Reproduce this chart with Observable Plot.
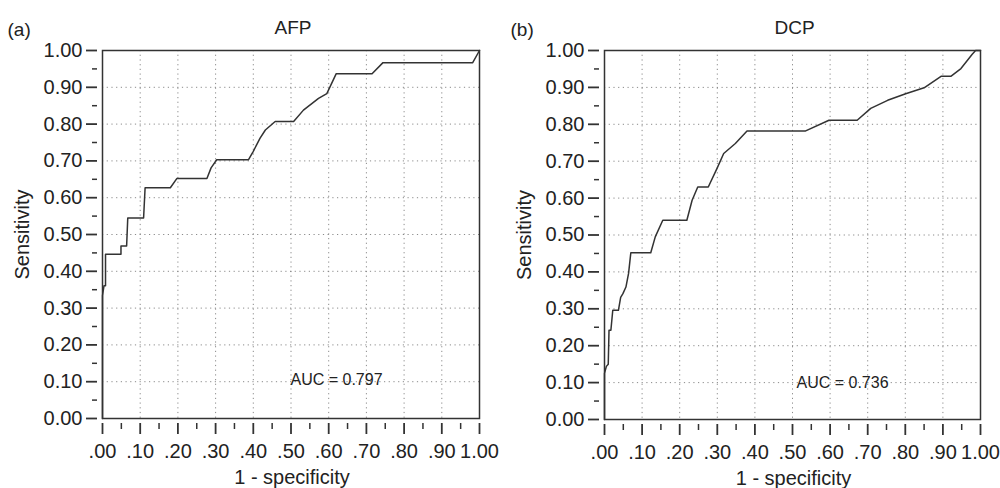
<!DOCTYPE html>
<html><head><meta charset="utf-8">
<script src="https://cdn.jsdelivr.net/npm/d3@7"></script>
<script src="https://cdn.jsdelivr.net/npm/@observablehq/plot@0.6"></script>
<style>
html,body{margin:0;padding:0;background:#fff;}
#charts{display:flex;width:1000px;height:488px;overflow:hidden;}
</style></head><body><div id="charts"></div>
<script>
// ROC curve for AFP (1 - specificity, sensitivity)
const afpX = [0, 0, 0.004, 0.008, 0.008, 0.049, 0.049, 0.064, 0.067, 0.109, 0.113, 0.18, 0.197, 0.277, 0.288, 0.303, 0.387, 0.40, 0.418, 0.432, 0.458, 0.507, 0.533, 0.573, 0.595, 0.62, 0.715, 0.744, 0.982, 1.0];
const afpY = [0, 0.334, 0.361, 0.361, 0.446, 0.446, 0.469, 0.469, 0.545, 0.545, 0.627, 0.627, 0.652, 0.652, 0.681, 0.703, 0.703, 0.726, 0.762, 0.784, 0.807, 0.807, 0.838, 0.87, 0.883, 0.937, 0.937, 0.967, 0.967, 1.0];
// ROC curve for DCP
const dcpX = [0, 0, 0.005, 0.01, 0.012, 0.017, 0.022, 0.037, 0.043, 0.049, 0.057, 0.064, 0.07, 0.123, 0.135, 0.155, 0.219, 0.233, 0.248, 0.276, 0.299, 0.317, 0.348, 0.379, 0.535, 0.597, 0.672, 0.708, 0.753, 0.801, 0.85, 0.895, 0.921, 0.948, 0.978, 0.987, 1.0];
const dcpY = [0, 0.125, 0.144, 0.15, 0.242, 0.242, 0.296, 0.296, 0.331, 0.341, 0.359, 0.396, 0.452, 0.452, 0.495, 0.54, 0.54, 0.594, 0.63, 0.63, 0.68, 0.721, 0.748, 0.782, 0.782, 0.811, 0.811, 0.843, 0.865, 0.883, 0.899, 0.93, 0.93, 0.951, 0.99, 1.0, 1.0];

const panelLetters = ["(a)", "(b)"];
const panelTitles = ["AFP", "DCP"];
const aucLabels = ["AUC = 0.797", "AUC = 0.736"];
const xLabel = "1 - specificity";
const yLabel = "Sensitivity";

const majorTicks = [0, 0.1, 0.2, 0.3, 0.4, 0.5, 0.6, 0.7, 0.8, 0.9, 1.0];
const minorTicks = [0.05, 0.15, 0.25, 0.35, 0.45, 0.55, 0.65, 0.75, 0.85, 0.95];
const gridTicks = [0.1, 0.2, 0.3, 0.4, 0.5, 0.6, 0.7, 0.8, 0.9];
const xTickLabels = [".00", ".10", ".20", ".30", ".40", ".50", ".60", ".70", ".80", ".90", "1.00"];
const yTickLabels = ["0.00", "0.10", "0.20", "0.30", "0.40", "0.50", "0.60", "0.70", "0.80", "0.90", "1.00"];

const ink = "#222";
const font = "'Liberation Sans', Arial, Helvetica, sans-serif";
const labelAt = (labels) => (d) => labels[majorTicks.findIndex(t => Math.abs(t - d) < 1e-9)];

function panel(xs, ys, k, m) {
  return Plot.plot({
    width: 500, height: 488,
    marginLeft: m.left, marginRight: m.right, marginTop: m.top, marginBottom: m.bottom,
    x: {domain: [0, 1]},
    y: {domain: [0, 1]},
    style: {fontFamily: font, fontSize: "20px", color: ink, background: "#fff", overflow: "visible"},
    marks: [
      Plot.gridX(gridTicks, {stroke: "#777", strokeOpacity: 0.85, strokeWidth: 1, strokeDasharray: "1.2,3.5"}),
      Plot.gridY(gridTicks, {stroke: "#777", strokeOpacity: 0.85, strokeWidth: 1, strokeDasharray: "1.2,3.5"}),
      Plot.frame({stroke: "#333", strokeWidth: 1.5}),
      Plot.axisX(majorTicks, {anchor: "bottom", tickSize: 11, tickPadding: 9, dy: 5, tickFormat: labelAt(xTickLabels), label: null, stroke: "#333", fill: ink, strokeWidth: 1.8, fontSize: 20}),
      Plot.axisX(minorTicks, {anchor: "bottom", tickSize: 6, dy: 5, tickFormat: () => "", label: null, stroke: "#333", strokeWidth: 1.5}),
      Plot.axisY(majorTicks, {anchor: "left", tickSize: 11, tickPadding: 4, dx: -5, tickFormat: labelAt(yTickLabels), label: null, stroke: "#333", fill: ink, strokeWidth: 1.8, fontSize: 20}),
      Plot.axisY(minorTicks, {anchor: "left", tickSize: 5, dx: -5, tickFormat: () => "", label: null, stroke: "#333", strokeWidth: 1.5}),
      Plot.line(d3.range(xs.length), {x: i => xs[i], y: i => ys[i], stroke: "#333", strokeWidth: 1.5}),
      Plot.text([aucLabels[k]], {text: d => d, frameAnchor: "bottom-left", dx: m.aucDx, dy: m.aucDy, textAnchor: "start", lineAnchor: "middle", fill: ink, fontSize: 16}),
      Plot.text([panelTitles[k]], {text: d => d, frameAnchor: "top", dy: -23, dx: 2, textAnchor: "middle", lineAnchor: "middle", fill: ink, fontSize: 19}),
      Plot.text([panelLetters[k]], {text: d => d, frameAnchor: "top-left", dx: m.letterDx, dy: -21, textAnchor: "start", lineAnchor: "middle", fill: ink, fontSize: 19}),
      Plot.text([yLabel], {text: d => d, frameAnchor: "left", dx: -80, rotate: -90, textAnchor: "middle", lineAnchor: "middle", fill: ink, fontSize: 20}),
      Plot.text([xLabel], {text: d => d, frameAnchor: "bottom", dy: 59, dx: 1, textAnchor: "middle", lineAnchor: "middle", fill: ink, fontSize: 20})
    ]
  });
}

const root = document.getElementById("charts");
root.append(panel(afpX, afpY, 0, {left: 102, right: 21, top: 50, bottom: 70, aucDx: 188, aucDy: -39, letterDx: -95}));
root.append(panel(dcpX, dcpY, 1, {left: 104, right: 20, top: 50, bottom: 69, aucDx: 192, aucDy: -37, letterDx: -94}));
</script>
</body></html>
